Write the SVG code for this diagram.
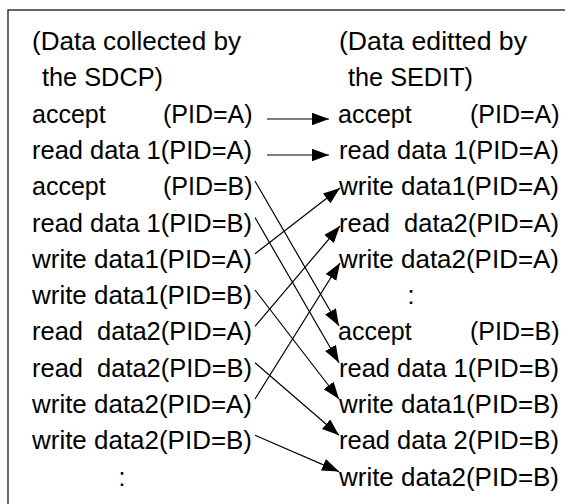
<svg xmlns="http://www.w3.org/2000/svg" width="565" height="504" viewBox="0 0 565 504">
  <style>
    text { font-family: "Liberation Sans", Arial, sans-serif; font-size: 25px; fill: #000; }
    .frame { fill: #fff; stroke: #000; stroke-width: 1.2; }
    .conn line { stroke: #000; stroke-width: 1.2; fill: none; marker-end: url(#arrow); }
  </style>
  <defs>
    <marker id="arrow" markerUnits="userSpaceOnUse" markerWidth="18" markerHeight="13" refX="17" refY="6.25" orient="auto">
      <path d="M0,0 L17,6.25 L0,12.5 Z" fill="#000"/>
    </marker>
  </defs>
  <rect x="0" y="0" width="565" height="504" fill="#fff"/>
  <rect class="frame" x="8" y="10" width="600" height="560"/>

  <g id="left-column">
    <g id="L0"><text x="32" y="50" textLength="209" lengthAdjust="spacingAndGlyphs">(Data collected by</text></g>
    <g id="L1"><text x="42" y="86.3" textLength="121" lengthAdjust="spacingAndGlyphs">the SDCP)</text></g>
    <g id="L2"><text y="122.6"><tspan x="32">accept</tspan><tspan x="163">(PID=A)</tspan></text></g>
    <g id="L3"><text x="32" y="158.9" textLength="220" lengthAdjust="spacingAndGlyphs">read data 1(PID=A)</text></g>
    <g id="L4"><text y="195.2"><tspan x="32">accept</tspan><tspan x="163">(PID=B)</tspan></text></g>
    <g id="L5"><text x="32" y="231.5" textLength="220" lengthAdjust="spacingAndGlyphs">read data 1(PID=B)</text></g>
    <g id="L6"><text x="32" y="267.8" textLength="220" lengthAdjust="spacingAndGlyphs">write data1(PID=A)</text></g>
    <g id="L7"><text x="32" y="304.1" textLength="220" lengthAdjust="spacingAndGlyphs">write data1(PID=B)</text></g>
    <g id="L8"><text x="32" y="340.4" textLength="220" lengthAdjust="spacingAndGlyphs" xml:space="preserve">read  data2(PID=A)</text></g>
    <g id="L9"><text x="32" y="376.7" textLength="220" lengthAdjust="spacingAndGlyphs" xml:space="preserve">read  data2(PID=B)</text></g>
    <g id="L10"><text x="32" y="413" textLength="220" lengthAdjust="spacingAndGlyphs">write data2(PID=A)</text></g>
    <g id="L11"><text x="32" y="449.3" textLength="220" lengthAdjust="spacingAndGlyphs">write data2(PID=B)</text></g>
    <g id="L12"><text x="122" y="485.6" text-anchor="middle">:</text></g>
  </g>

  <g id="right-column">
    <g id="R0"><text x="339" y="50" textLength="188" lengthAdjust="spacingAndGlyphs">(Data editted by</text></g>
    <g id="R1"><text x="348" y="86.3" textLength="125" lengthAdjust="spacingAndGlyphs">the SEDIT)</text></g>
    <g id="R2"><text y="122.6"><tspan x="338">accept</tspan><tspan x="470">(PID=A)</tspan></text></g>
    <g id="R3"><text x="339" y="158.9" textLength="220" lengthAdjust="spacingAndGlyphs">read data 1(PID=A)</text></g>
    <g id="R4"><text x="339" y="195.2" textLength="220" lengthAdjust="spacingAndGlyphs">write data1(PID=A)</text></g>
    <g id="R5"><text x="339" y="231.5" textLength="220" lengthAdjust="spacingAndGlyphs" xml:space="preserve">read  data2(PID=A)</text></g>
    <g id="R6"><text x="339" y="267.8" textLength="220" lengthAdjust="spacingAndGlyphs">write data2(PID=A)</text></g>
    <g id="R7"><text x="411" y="304.1" text-anchor="middle">:</text></g>
    <g id="R8"><text y="340.4"><tspan x="338">accept</tspan><tspan x="470">(PID=B)</tspan></text></g>
    <g id="R9"><text x="339" y="376.7" textLength="220" lengthAdjust="spacingAndGlyphs">read data 1(PID=B)</text></g>
    <g id="R10"><text x="339" y="413" textLength="220" lengthAdjust="spacingAndGlyphs">write data1(PID=B)</text></g>
    <g id="R11"><text x="339" y="449.3" textLength="220" lengthAdjust="spacingAndGlyphs">read data 2(PID=B)</text></g>
    <g id="R12"><text x="339" y="485.6" textLength="220" lengthAdjust="spacingAndGlyphs">write data2(PID=B)</text></g>
  </g>

  <g id="connectors" class="conn">
    <line x1="267" y1="119" x2="329" y2="119"/>
    <line x1="267" y1="155" x2="329" y2="155"/>
    <line x1="255" y1="181" x2="339" y2="326"/>
    <line x1="255" y1="217.5" x2="339" y2="362.7"/>
    <line x1="255" y1="253.8" x2="340" y2="188"/>
    <line x1="255" y1="290" x2="339" y2="399"/>
    <line x1="255" y1="326.4" x2="340" y2="226"/>
    <line x1="255" y1="362.7" x2="339" y2="435.3"/>
    <line x1="255" y1="399" x2="340" y2="263"/>
    <line x1="255" y1="435.3" x2="339" y2="471.6"/>
  </g>
</svg>
